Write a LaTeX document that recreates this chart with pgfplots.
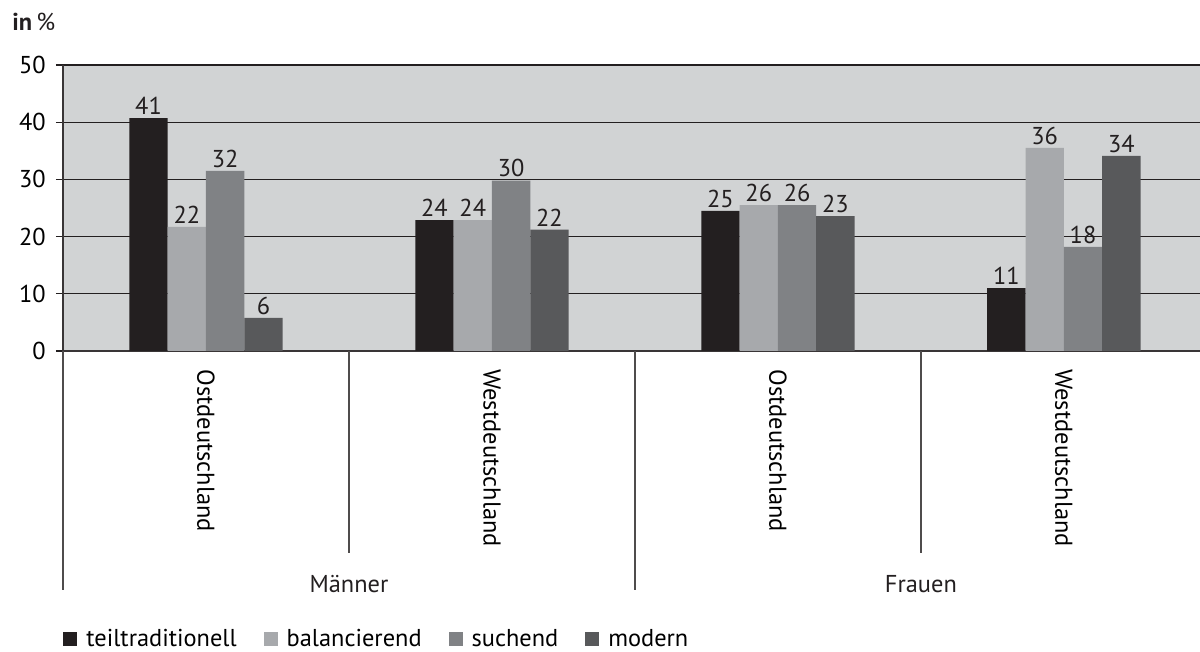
\documentclass[border=0pt]{standalone}
\usepackage{fontspec}
\setmainfont{PT Sans}
\usepackage{pgfplots}
\usepackage{pgfplotstable}
\pgfplotsset{compat=1.18}

\definecolor{bg}{HTML}{D1D3D4}
\definecolor{cteil}{HTML}{231F20}
\definecolor{cbal}{HTML}{A7A9AC}
\definecolor{csuch}{HTML}{808285}
\definecolor{cmod}{HTML}{58595B}

% x  height  label  (one table per series)
\pgfplotstableread{
x   h    lab
0.5 40.7 41
1.5 22.9 24
2.5 24.5 25
3.5 11.0 11
}\teil
\pgfplotstableread{
x   h    lab
0.5 21.7 22
1.5 22.9 24
2.5 25.5 26
3.5 35.5 36
}\bal
\pgfplotstableread{
x   h    lab
0.5 31.5 32
1.5 29.8 30
2.5 25.5 26
3.5 18.2 18
}\such
\pgfplotstableread{
x   h    lab
0.5 5.8  6
1.5 21.2 22
2.5 23.6 23
3.5 34.1 34
}\modern

\begin{document}
\begin{tikzpicture}[font=\fontsize{12.2}{14}\selectfont]
\begin{axis}[
    scale only axis,
    width=568.5pt, height=143pt,
    xmin=0, xmax=3.976,
    ymin=0, ymax=50,
    ytick={0,10,...,50},
    ymajorgrids,
    grid style={line width=0.6pt, draw=cteil},
    axis x line=bottom, axis y line=left,
    axis line style={-, line width=0.6pt, draw=cteil!90},
    axis background/.style={fill=bg},
    tick align=outside,
    major tick length=3.5pt,
    y tick style={line width=0.6pt, draw=cteil},
    yticklabel style={/pgf/number format/assume math mode=true, inner sep=0pt, xshift=-5pt},
    xtick={0.5,1.5,2.5,3.5},
    xticklabels={Ostdeutschland,Westdeutschland,Ostdeutschland,Westdeutschland},
    x tick style={draw=none},
    xticklabel style={rotate=-90, anchor=west, inner sep=0pt},
    xticklabel shift=5.5pt,
    ybar, bar width=0.134,
    clip=false,
    point meta=explicit,
    nodes near coords={\pgfmathprintnumber{\pgfplotspointmeta}},
    every node near coord/.append style={anchor=south, inner sep=0pt, yshift=1.5pt,
        /pgf/number format/assume math mode=true, text=cteil},
    legend style={at={(0,-1.008)}, anchor=west, draw=none, fill=none, inner sep=0pt,
        legend columns=4,
        nodes={inner xsep=2pt},
        /tikz/every even column/.append style={column sep=11.5pt},
        /tikz/every odd column/.append style={column sep=2.5pt}},
    legend image code/.code={\fill[#1] (0pt,-3.5pt) rectangle (7pt,3.7pt);},
]
\addplot[fill=cteil, draw=none, bar shift=-0.201] table[x=x, y=h, meta=lab] {\teil};
\addlegendentry{teiltraditionell}
\addplot[fill=cbal, draw=none, bar shift=-0.067] table[x=x, y=h, meta=lab] {\bal};
\addlegendentry{balancierend}
\addplot[fill=csuch, draw=none, bar shift=0.067] table[x=x, y=h, meta=lab] {\such};
\addlegendentry{suchend}
\addplot[fill=cmod, draw=none, bar shift=0.201] table[x=x, y=h, meta=lab] {\modern};
\addlegendentry{modern}

% group dividers under the axis
\draw[line width=0.6pt, cteil!80] (axis cs:0,0) -- ++(0,-119.5pt);
\draw[line width=0.6pt, cteil!80] (axis cs:2,0) -- ++(0,-119.5pt);
\draw[line width=0.6pt, cteil!80] (axis cs:1,0) -- ++(0,-101pt);
\draw[line width=0.6pt, cteil!80] (axis cs:3,0) -- ++(0,-101pt);
\node[anchor=base, inner sep=0pt, text=cteil] at ([yshift=-120.5pt]axis cs:1,0) {Männer};
\node[anchor=base, inner sep=0pt, text=cteil] at ([yshift=-120.5pt]axis cs:3,0) {Frauen};
\node[anchor=base west, inner sep=0pt, text=cteil] at ([xshift=-25.5pt, yshift=17pt]rel axis cs:0,1) {\textbf{in}\,\%};
\end{axis}
\pgfresetboundingbox
\path (-31.5pt,-150.5pt) rectangle (568.5pt,175.5pt);
\end{tikzpicture}
\end{document}
